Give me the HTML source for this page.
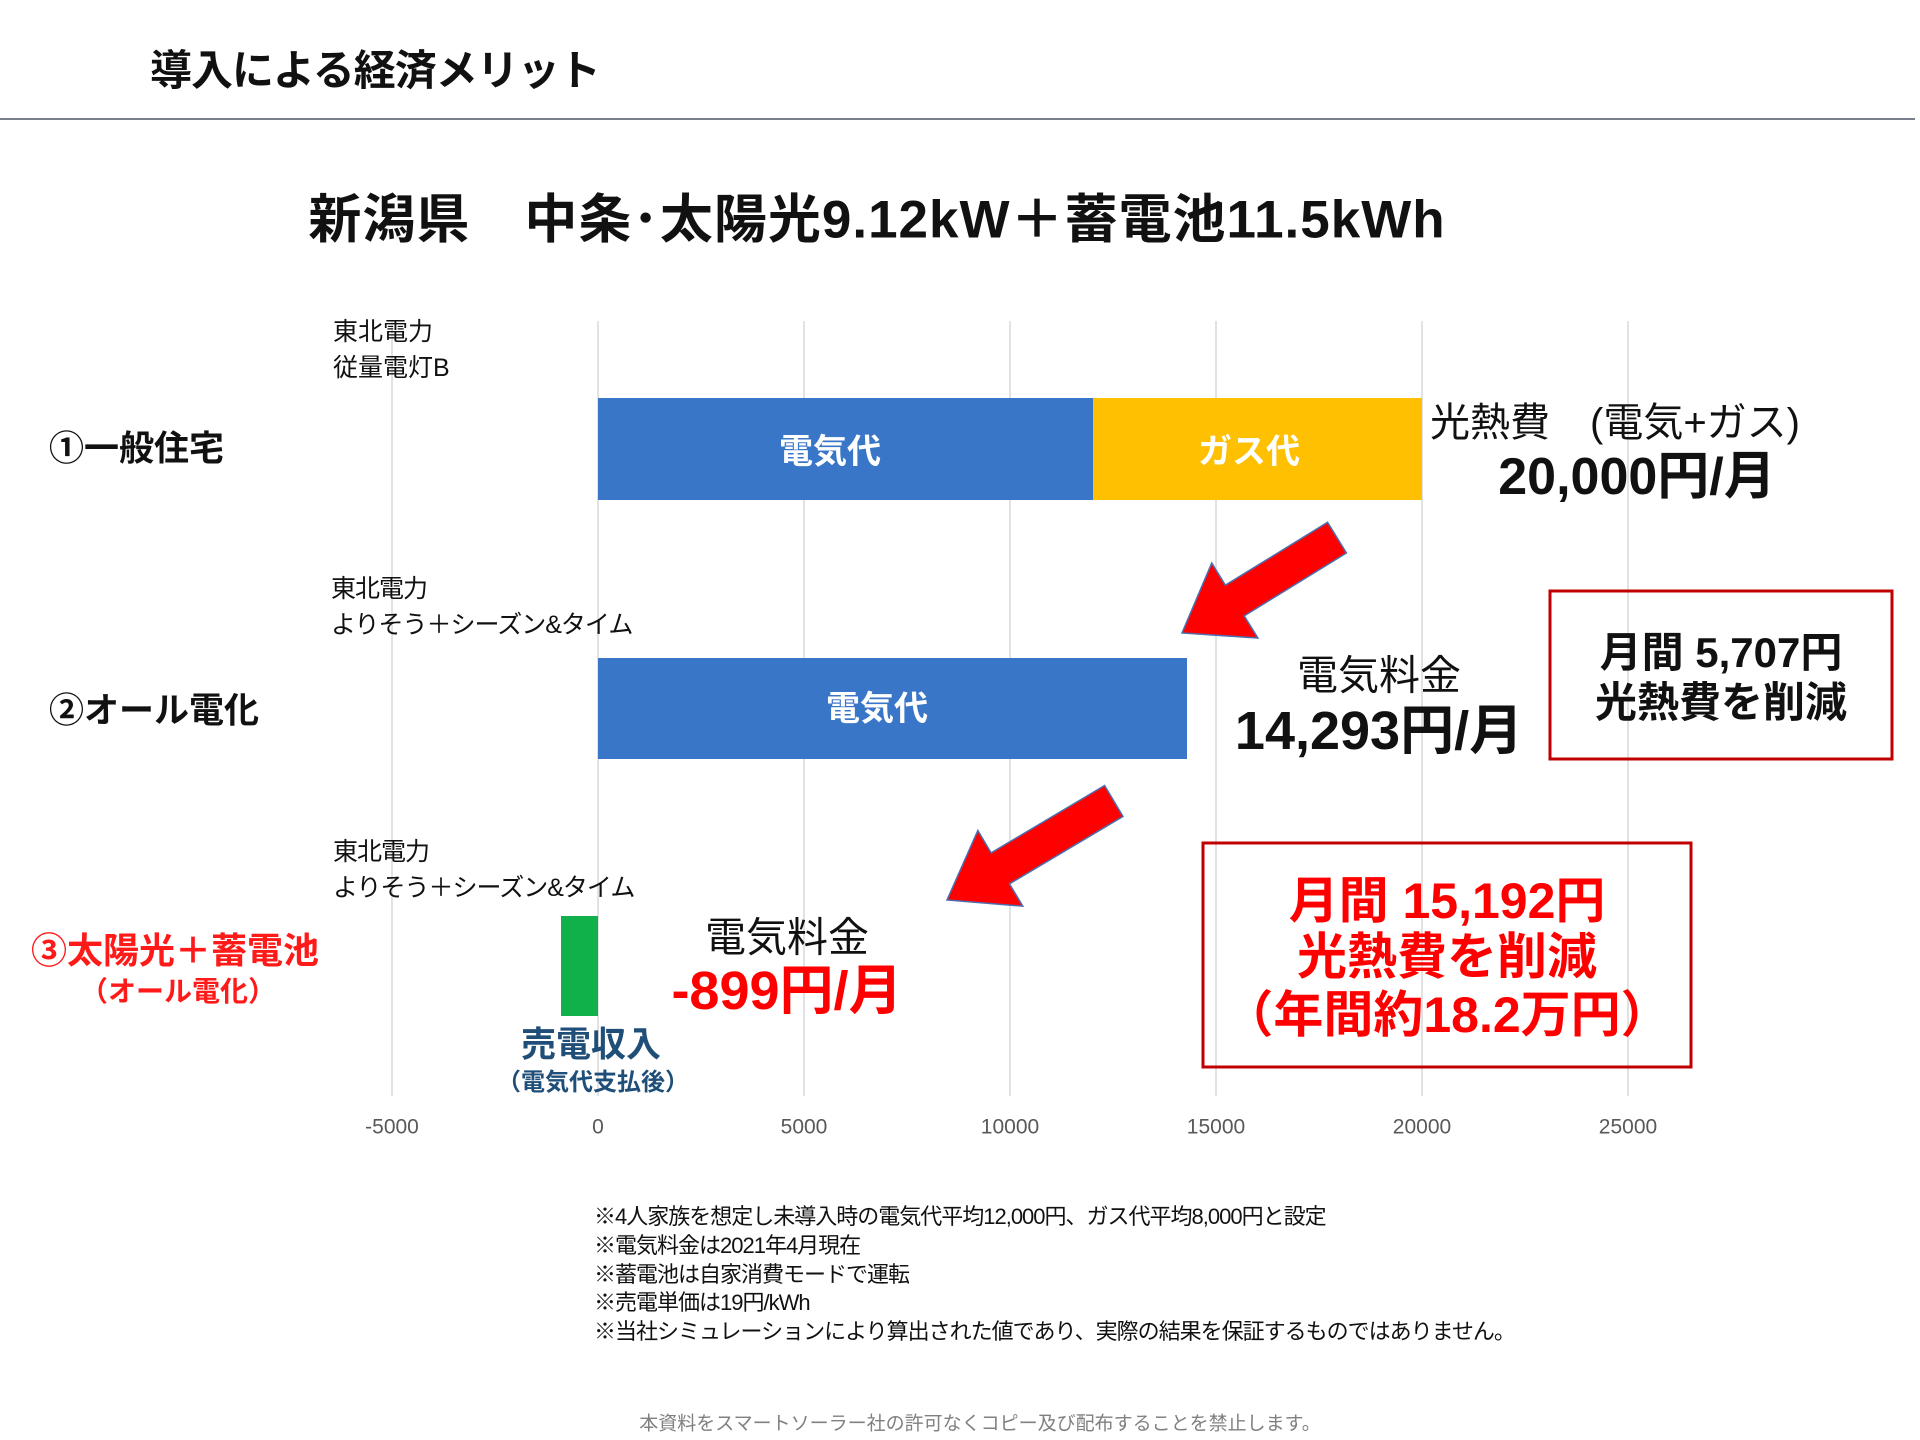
<!DOCTYPE html>
<html><head><meta charset="utf-8"><style>
body{margin:0;width:1920px;height:1440px;background:#fff;position:relative;overflow:hidden;font-family:"Liberation Sans","Noto Sans CJK JP",sans-serif;color:#111}
.a{position:absolute;white-space:nowrap;line-height:1}
.b{font-weight:700}
.c{transform:translate(-50%,-50%)}
.l{transform:translateY(-50%)}
</style></head><body>
<div class="a b l" style="left:150px;top:71px;font-size:42px;letter-spacing:-1px">導入による経済メリット</div>
<div class="a" style="left:0;top:118px;width:1915px;height:2px;background:#7a7f8c"></div>
<div class="a b c" style="left:877px;top:220px;font-size:53px;letter-spacing:1px">新潟県　中条･太陽光9.12kW＋蓄電池11.5kWh</div>

<svg class="a" style="left:0;top:0" width="1920" height="1440">
<g stroke="#d9d9d9" stroke-width="1.5">
<line x1="392" y1="321" x2="392" y2="1096"/><line x1="598" y1="321" x2="598" y2="1096"/><line x1="804" y1="321" x2="804" y2="1096"/><line x1="1010" y1="321" x2="1010" y2="1096"/><line x1="1216" y1="321" x2="1216" y2="1096"/><line x1="1422" y1="321" x2="1422" y2="1096"/><line x1="1628" y1="321" x2="1628" y2="1096"/>
</g>
<rect x="598" y="398" width="495" height="102" fill="#3a76c8"/>
<rect x="1093" y="398" width="329" height="102" fill="#fec000"/>
<rect x="598" y="658" width="589" height="101" fill="#3a76c8"/>
<rect x="561" y="916" width="37" height="100" fill="#10b04b"/>
<g fill="#ff0000" stroke="#4a6fb0" stroke-width="1.5">
<polygon transform="translate(1182,633) rotate(148.4)" points="-182,-18 -62,-18 -62,-44 0,0 -62,44 -62,18 -182,18"/>
<polygon transform="translate(947,900) rotate(149.3)" points="-194,-18 -62,-18 -62,-44 0,0 -62,44 -62,18 -194,18"/>
</g>
<rect x="1550" y="591" width="342" height="168" fill="none" stroke="#c00000" stroke-width="3"/>
<rect x="1203" y="843" width="488" height="224" fill="none" stroke="#c00000" stroke-width="3"/>
</svg>

<div class="a" style="left:333px;top:314px;font-size:25px;line-height:36px">東北電力<br>従量電灯B</div>
<div class="a" style="left:331px;top:571px;font-size:25px;line-height:36px;letter-spacing:-1px">東北電力<br>よりそう＋シーズン&amp;タイム</div>
<div class="a" style="left:333px;top:834px;font-size:25px;line-height:36px;letter-spacing:-1px">東北電力<br>よりそう＋シーズン&amp;タイム</div>

<div class="a b l" style="left:49px;top:449px;font-size:35px">①一般住宅</div>
<div class="a b l" style="left:49px;top:711px;font-size:35px">②オール電化</div>
<div class="a b c" style="left:175px;top:951px;font-size:36px;color:#ff1a1a">③太陽光＋蓄電池</div>
<div class="a b c" style="left:178px;top:992px;font-size:28px;color:#ff1a1a">（オール電化）</div>

<div class="a b c" style="left:830px;top:452px;font-size:34px;color:#fff">電気代</div>
<div class="a b c" style="left:1249px;top:452px;font-size:34px;color:#fff">ガス代</div>
<div class="a b c" style="left:877px;top:709px;font-size:34px;color:#fff">電気代</div>

<div class="a l" style="left:1430px;top:423px;font-size:40px">光熱費　(電気+ガス)</div>
<div class="a b c" style="left:1637px;top:477px;font-size:52px">20,000円/月</div>
<div class="a c" style="left:1379px;top:676px;font-size:41px">電気料金</div>
<div class="a b c" style="left:1379px;top:731px;font-size:54px">14,293円/月</div>
<div class="a b c" style="left:1721px;top:653px;font-size:42px">月間 5,707円</div>
<div class="a b c" style="left:1721px;top:703px;font-size:42px">光熱費を削減</div>
<div class="a b c" style="left:1447px;top:901px;font-size:50px;color:#ff0000">月間 15,192円</div>
<div class="a b c" style="left:1447px;top:957px;font-size:50px;color:#ff0000">光熱費を削減</div>
<div class="a b c" style="left:1447px;top:1015px;font-size:50px;color:#ff0000">（年間約18.2万円）</div>
<div class="a c" style="left:787px;top:938px;font-size:41px">電気料金</div>
<div class="a b c" style="left:787px;top:991px;font-size:54px;color:#ff0000">-899円/月</div>
<div class="a b c" style="left:591px;top:1045px;font-size:35px;color:#1f4e79">売電収入</div>
<div class="a b c" style="left:593px;top:1083px;font-size:24px;color:#1f4e79">（電気代支払後）</div>

<div class="a c" style="left:392px;top:1127px;font-size:21px;color:#595959">-5000</div>
<div class="a c" style="left:598px;top:1127px;font-size:21px;color:#595959">0</div>
<div class="a c" style="left:804px;top:1127px;font-size:21px;color:#595959">5000</div>
<div class="a c" style="left:1010px;top:1127px;font-size:21px;color:#595959">10000</div>
<div class="a c" style="left:1216px;top:1127px;font-size:21px;color:#595959">15000</div>
<div class="a c" style="left:1422px;top:1127px;font-size:21px;color:#595959">20000</div>
<div class="a c" style="left:1628px;top:1127px;font-size:21px;color:#595959">25000</div>

<div class="a" style="left:594px;top:1203px;font-size:22px;line-height:28.8px;letter-spacing:-1px">※4人家族を想定し未導入時の電気代平均12,000円、ガス代平均8,000円と設定<br>※電気料金は2021年4月現在<br>※蓄電池は自家消費モードで運転<br>※売電単価は19円/kWh<br>※当社シミュレーションにより算出された値であり、実際の結果を保証するものではありません。</div>
<div class="a c" style="left:980px;top:1424px;font-size:19px;color:#808080">本資料をスマートソーラー社の許可なくコピー及び配布することを禁止します。</div>
</body></html>
